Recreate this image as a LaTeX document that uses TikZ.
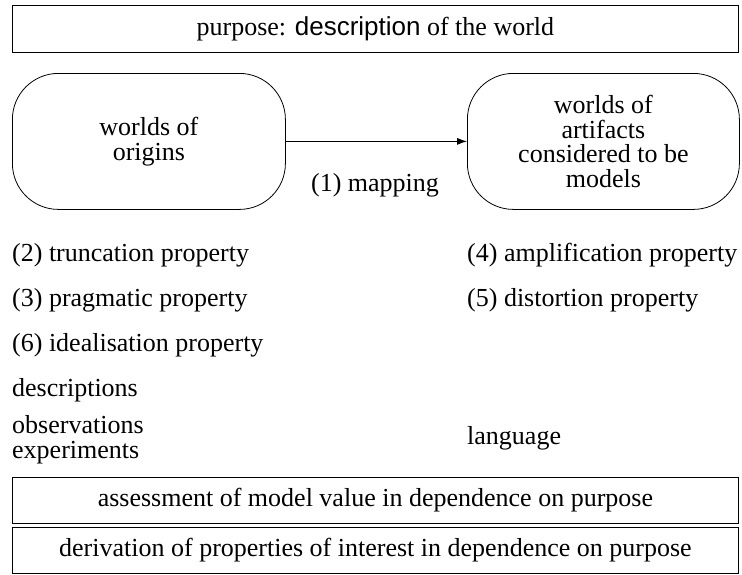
\documentclass[tikz,border=0pt]{standalone}
\usepackage{fontspec}
\setmainfont{Liberation Serif}
\newfontfamily\helv{Liberation Sans}
\usetikzlibrary{arrows.meta}
\begin{document}
\begin{tikzpicture}[x=1pt,y=-1pt,
  every node/.style={font=\fontsize{26}{25}\selectfont, inner sep=0pt},
  wide/.style={draw, line width=0.8pt, minimum width=726pt, anchor=north west},
  world/.style={draw, line width=0.8pt, rounded corners=46pt, anchor=north west, align=center,
    font=\fontsize{26}{24.5}\selectfont},
  lbl/.style={anchor=west, align=left}]
\useasboundingbox (0,0) rectangle (742,574);
\node[wide, minimum height=47pt] (purpose) at (12,5) {purpose: {\helv description} of the world};
\node[world, minimum width=273pt, minimum height=136pt] (origins) at (12,73) {worlds of\\origins};
\node[world, minimum width=272pt, minimum height=136pt] (artifacts) at (467,73) {worlds of\\artifacts\\considered to be\\models};
\draw[line width=0.8pt, -{Latex[length=10pt,width=7pt]}] (origins.east) -- (artifacts.west);
\node (mapping) at (375,185) {(1) mapping};
\node[lbl] (trunc) at (12,255) {(2) truncation property};
\node[lbl] (ampl) at (467,255) {(4) amplification property};
\node[lbl] (prag) at (12,300) {(3) pragmatic property};
\node[lbl] (dist) at (467,300) {(5) distortion property};
\node[lbl] (ideal) at (12,345) {(6) idealisation property};
\node[lbl] (descr) at (12,390) {descriptions};
\node[lbl] (obs) at (12,440) {observations\\experiments};
\node[lbl] (lang) at (467,438) {language};
\node[wide, minimum height=46pt] (assess) at (12,477) {assessment of model value in dependence on purpose};
\node[wide, minimum height=46pt] (deriv) at (12,527) {derivation of properties of interest in dependence on purpose};
\end{tikzpicture}
\end{document}
